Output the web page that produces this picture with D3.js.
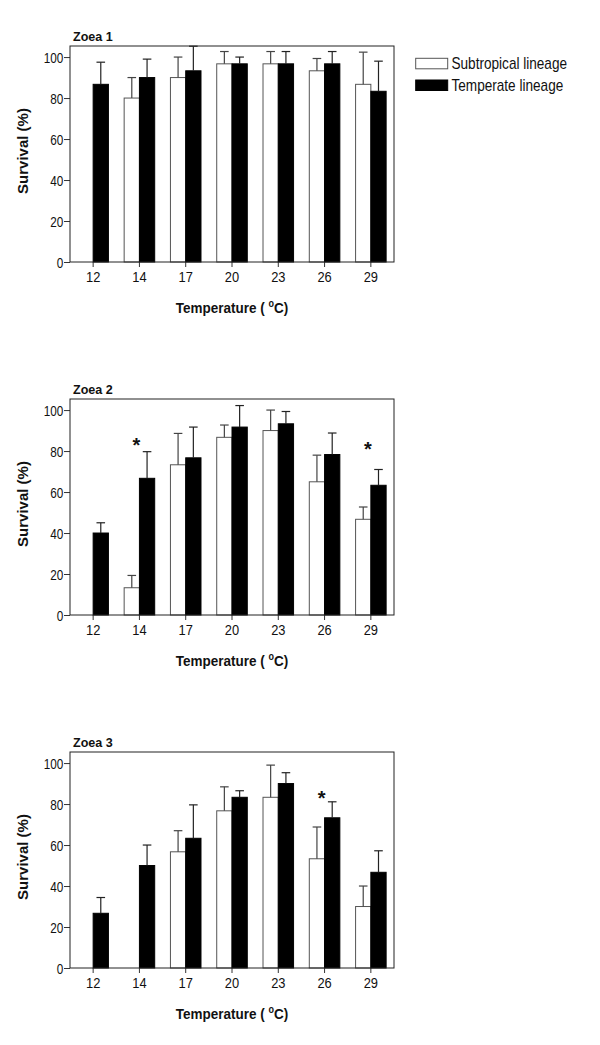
<!DOCTYPE html>
<html>
<head>
<meta charset="utf-8">
<script src="https://cdn.jsdelivr.net/npm/d3@7"></script>
<style>
  html, body { margin: 0; padding: 0; background: #fff; }
  svg { display: block; }
  text { font-family: "Liberation Sans", Arial, sans-serif; fill: #111; }
</style>
</head>
<body>
<div id="chart"></div>
<script>
// ---------------- DATA ----------------
const categories = ["12", "14", "17", "20", "23", "26", "29"];
const seriesNames = ["Subtropical lineage", "Temperate lineage"];
const yTicks = [0, 20, 40, 60, 80, 100];
const panelTitles = ["Zoea 1", "Zoea 2", "Zoea 3"];

// Zoea 1
const zoea1Sub     = [null, 80, 90, 96.7, 96.7, 93.3, 86.7];
const zoea1SubErr  = [null, 10, 10, 6, 6, 6, 15.7];
const zoea1Temp    = [86.7, 90, 93.3, 96.7, 96.7, 96.7, 83.3];
const zoea1TempErr = [10.8, 9, 12, 3.3, 6, 6, 14.7];
const zoea1Stars   = [];

// Zoea 2
const zoea2Sub     = [null, 13.3, 73.3, 86.7, 90, 65, 46.7];
const zoea2SubErr  = [null, 6, 15.3, 6, 10, 13, 6];
const zoea2Temp    = [40, 66.7, 76.7, 91.7, 93.3, 78.3, 63.3];
const zoea2TempErr = [5, 13, 15, 10.5, 6, 10.5, 7.7];
const zoea2Stars   = [{ cat: "14", v: 84.7 }, { cat: "29", v: 83 }];

// Zoea 3
const zoea3Sub     = [null, null, 56.7, 76.7, 83.3, 53.3, 30];
const zoea3SubErr  = [null, null, 10.3, 11.7, 15.7, 15.5, 10];
const zoea3Temp    = [26.7, 50, 63.3, 83.3, 90, 73.3, 46.7];
const zoea3TempErr = [7.7, 10, 16.3, 3.2, 5.3, 7.8, 10.5];
const zoea3Stars   = [{ cat: "26", v: 84.9 }];

const xTitle = "Temperature (";
const yTitle = "Survival (%)";

// ---------------- LAYOUT ----------------
const W = 600, H = 1045;
const frameLeft = 70, frameRight = 394;
const frameH = 216;
const panelTop0 = 46, panelStep = 353;
const yMax = 105.4;

const panels = [
  { title: panelTitles[0], sub: zoea1Sub, subErr: zoea1SubErr, temp: zoea1Temp, tempErr: zoea1TempErr, stars: zoea1Stars },
  { title: panelTitles[1], sub: zoea2Sub, subErr: zoea2SubErr, temp: zoea2Temp, tempErr: zoea2TempErr, stars: zoea2Stars },
  { title: panelTitles[2], sub: zoea3Sub, subErr: zoea3SubErr, temp: zoea3Temp, tempErr: zoea3TempErr, stars: zoea3Stars }
];

const svg = d3.select("#chart").append("svg")
  .attr("width", W).attr("height", H);

const x0 = d3.scaleBand().domain(categories).range([frameLeft, frameRight])
  .paddingInner(0.34).paddingOuter(0.17);
const x1 = d3.scaleBand().domain(seriesNames).range([0, x0.bandwidth()]);

const fill = { "Subtropical lineage": "#fff", "Temperate lineage": "#000" };
const stroke = { "Subtropical lineage": "#555", "Temperate lineage": "#000" };
const errColor = { "Subtropical lineage": "#444", "Temperate lineage": "#222" };
const capHalf = 4.3;

panels.forEach((p, i) => {
  const top = panelTop0 + i * panelStep;
  const bottom = top + frameH;
  const y = d3.scaleLinear().domain([0, yMax]).range([bottom, top]);
  const g = svg.append("g");

  const rows = [];
  categories.forEach((c, k) => {
    rows.push({ cat: c, s: seriesNames[0], v: p.sub[k], e: p.subErr[k] });
    rows.push({ cat: c, s: seriesNames[1], v: p.temp[k], e: p.tempErr[k] });
  });
  const valid = rows.filter(d => d.v != null);

  // bars
  g.selectAll("rect.bar").data(valid).join("rect")
    .attr("class", "bar")
    .attr("x", d => x0(d.cat) + x1(d.s))
    .attr("width", x1.bandwidth())
    .attr("y", d => y(d.v))
    .attr("height", d => y(0) - y(d.v))
    .attr("fill", d => fill[d.s])
    .attr("stroke", d => stroke[d.s])
    .attr("stroke-width", 1);

  // error bars (upper only)
  const eb = g.selectAll("g.err").data(valid.filter(d => d.e != null)).join("g").attr("class", "err");
  eb.append("line")
    .attr("x1", d => x0(d.cat) + x1(d.s) + x1.bandwidth() / 2)
    .attr("x2", d => x0(d.cat) + x1(d.s) + x1.bandwidth() / 2)
    .attr("y1", d => y(d.v))
    .attr("y2", d => y(d.v + d.e))
    .attr("stroke", d => errColor[d.s]).attr("stroke-width", 1.2);
  eb.append("line")
    .attr("x1", d => x0(d.cat) + x1(d.s) + x1.bandwidth() / 2 - capHalf)
    .attr("x2", d => x0(d.cat) + x1(d.s) + x1.bandwidth() / 2 + capHalf)
    .attr("y1", d => y(d.v + d.e))
    .attr("y2", d => y(d.v + d.e))
    .attr("stroke", d => errColor[d.s]).attr("stroke-width", 1.2);

  // axes
  const yAxis = g.append("g").attr("transform", `translate(${frameLeft},0)`)
    .call(d3.axisLeft(y).tickValues(yTicks).tickSize(6).tickPadding(2));
  yAxis.select(".domain").remove();
  yAxis.selectAll("line").attr("stroke", "#333");
  yAxis.selectAll("text").style("font-size", "14px").attr("fill", "#111")
    .attr("dy", "0.36em")
    .attr("transform", "scale(0.84,1)");

  const xAxis = g.append("g").attr("transform", `translate(0,${bottom})`)
    .call(d3.axisBottom(x0).tickSize(5).tickPadding(5));
  xAxis.select(".domain").remove();
  xAxis.selectAll("line").attr("stroke", "#333");
  xAxis.selectAll("text").style("font-size", "14px").attr("fill", "#111")
    .attr("transform", "scale(0.92,1)");

  // frame
  g.append("rect")
    .attr("x", frameLeft).attr("y", top)
    .attr("width", frameRight - frameLeft).attr("height", frameH)
    .attr("fill", "none").attr("stroke", "#222").attr("stroke-width", 1);

  // title
  g.append("text")
    .attr("transform", `translate(${frameLeft + 3},${top - 5.3}) scale(0.93,1)`)
    .style("font-size", "13.5px").style("font-weight", "bold")
    .text(p.title);

  // y title
  g.append("text")
    .attr("transform", `translate(27.5,${top + 105}) rotate(-90)`)
    .attr("text-anchor", "middle")
    .style("font-size", "15px").style("font-weight", "bold")
    .text(yTitle);

  // x title
  const xt = g.append("text")
    .attr("transform", `translate(232,${bottom + 51.4}) scale(0.9,1)`)
    .attr("text-anchor", "middle")
    .style("font-size", "15px").style("font-weight", "bold");
  xt.append("tspan").text(xTitle + " ");
  xt.append("tspan").attr("dy", "-6").style("font-size", "10px").text("o");
  xt.append("tspan").attr("dy", "6").text("C)");

  // significance stars
  g.selectAll("text.star").data(p.stars).join("text")
    .attr("class", "star")
    .attr("x", d => x0(d.cat) + x0.bandwidth() / 2 - 3)
    .attr("y", d => y(d.v) + 11)
    .attr("text-anchor", "middle")
    .style("font-size", "20px").style("font-weight", "bold")
    .text("*");
});

// legend
const legend = svg.append("g");
const legY = [58.3, 80];
seriesNames.forEach((s, k) => {
  legend.append("rect")
    .attr("x", 415.7).attr("y", legY[k])
    .attr("width", 32).attr("height", 10.5)
    .attr("fill", fill[s]).attr("stroke", stroke[s]).attr("stroke-width", 1);
  legend.append("text")
    .attr("transform", `translate(451.5,${legY[k] + 10.8}) scale(0.85,1)`)
    .style("font-size", "16px")
    .text(s);
});
</script>
</body>
</html>
